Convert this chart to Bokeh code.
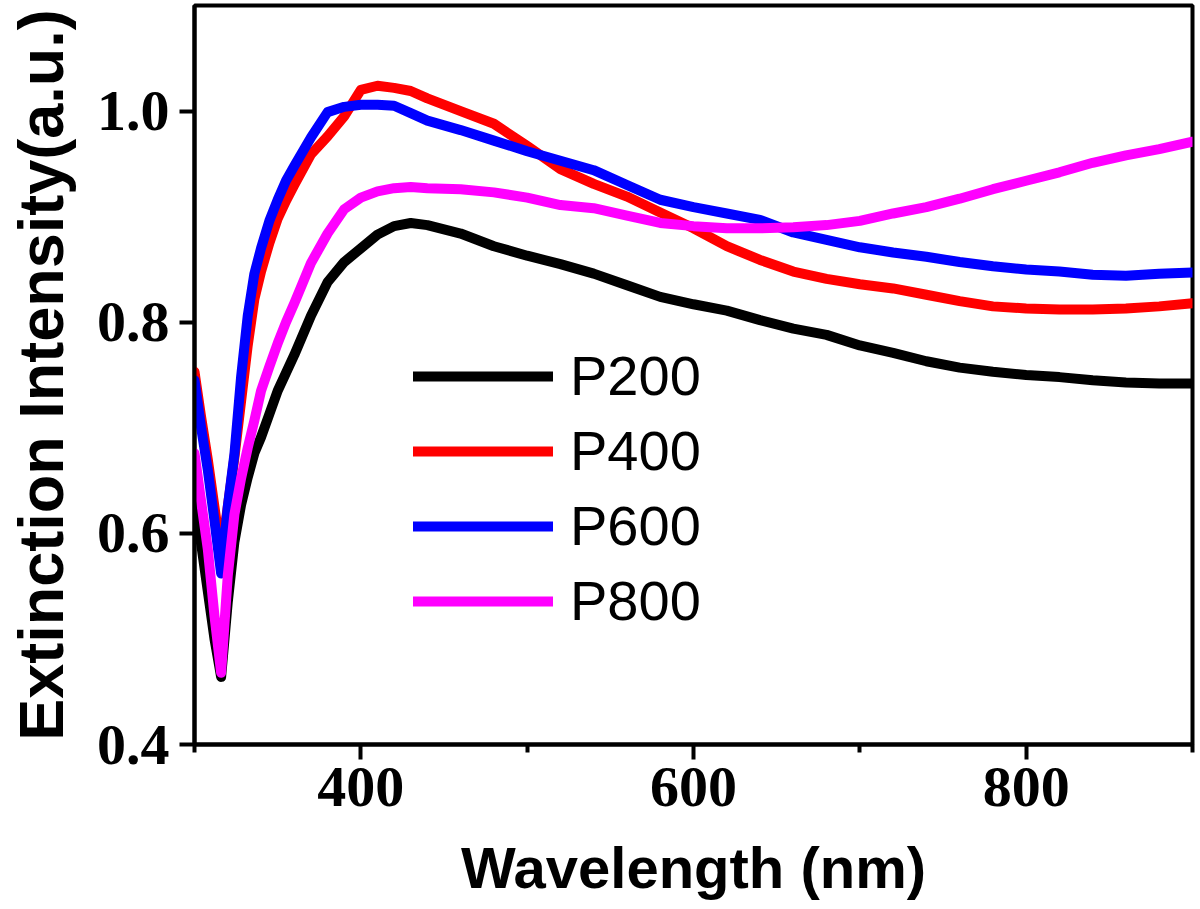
from bokeh.plotting import figure
from bokeh.models import FixedTicker, PrintfTickFormatter, Legend, LegendItem, Range1d
from bokeh.embed import file_html
from bokeh.resources import INLINE

# ---- data ----
wavelength = [300, 304, 308, 312, 316, 320, 324, 328, 332, 336, 340, 345, 350, 355, 360,
              370, 380, 390, 400, 410, 420, 430, 440, 460, 480, 500, 520, 540, 560, 580,
              600, 620, 640, 660, 680, 700, 720, 740, 760, 780, 800, 820, 840, 860, 880, 900]

p200 = [0.630, 0.590, 0.545, 0.500, 0.464, 0.535, 0.592, 0.627, 0.653, 0.676, 0.691, 0.713,
        0.735, 0.752, 0.769, 0.806, 0.838, 0.857, 0.870, 0.883, 0.891, 0.894, 0.892, 0.884,
        0.872, 0.863, 0.855, 0.846, 0.835, 0.824, 0.817, 0.811, 0.802, 0.794, 0.788, 0.778,
        0.771, 0.763, 0.757, 0.753, 0.750, 0.748, 0.745, 0.743, 0.742, 0.742]

p400 = [0.753, 0.710, 0.670, 0.625, 0.580, 0.625, 0.672, 0.725, 0.778, 0.822, 0.848, 0.875,
        0.898, 0.915, 0.930, 0.959, 0.976, 0.995, 1.020, 1.024, 1.022, 1.019, 1.012, 1.000,
        0.988, 0.967, 0.945, 0.931, 0.919, 0.904, 0.889, 0.872, 0.859, 0.848, 0.841, 0.836,
        0.832, 0.826, 0.820, 0.815, 0.813, 0.812, 0.812, 0.813, 0.815, 0.818]

p600 = [0.745, 0.700, 0.660, 0.612, 0.562, 0.625, 0.675, 0.748, 0.806, 0.846, 0.870, 0.896,
        0.916, 0.934, 0.948, 0.975, 0.999, 1.004, 1.006, 1.006, 1.005, 0.998, 0.991, 0.982,
        0.972, 0.962, 0.953, 0.944, 0.930, 0.916, 0.909, 0.903, 0.897, 0.885, 0.878, 0.871,
        0.866, 0.862, 0.857, 0.853, 0.850, 0.848, 0.845, 0.844, 0.846, 0.847]

p800 = [0.676, 0.630, 0.585, 0.522, 0.468, 0.560, 0.618, 0.652, 0.681, 0.707, 0.735, 0.758,
        0.780, 0.800, 0.818, 0.856, 0.884, 0.907, 0.918, 0.924, 0.927, 0.928, 0.927, 0.926,
        0.923, 0.918, 0.911, 0.908, 0.901, 0.894, 0.891, 0.889, 0.889, 0.890, 0.892, 0.896,
        0.903, 0.909, 0.917, 0.926, 0.934, 0.942, 0.951, 0.958, 0.964, 0.971]

series_names = ["P200", "P400", "P600", "P800"]
series_colors = ["#000000", "#ff0000", "#0000ff", "#ff00ff"]
x_ticks = [400, 600, 800]
x_minor = [300, 500, 700, 900]
y_ticks = [0.4, 0.6, 0.8, 1.0]

p = figure(width=1200, height=909, output_backend="svg", toolbar_location=None,
           x_range=Range1d(300, 900), y_range=Range1d(0.4, 1.1),
           min_border_left=194, min_border_right=8, min_border_top=5, min_border_bottom=165)

p.background_fill_color = "white"
p.border_fill_color = "white"
p.outline_line_color = "black"
p.outline_line_width = 4
p.grid.visible = False

renderers = []
for ys, c in zip([p200, p400, p600, p800], series_colors):
    r = p.line(wavelength, ys, line_color=c, line_width=10, line_join="round", line_cap="round")
    renderers.append(r)

# axes
p.xaxis.ticker = FixedTicker(ticks=x_ticks, minor_ticks=x_minor)
p.yaxis.ticker = FixedTicker(ticks=y_ticks, minor_ticks=[])
p.xaxis.formatter = PrintfTickFormatter(format="%d")
p.yaxis.formatter = PrintfTickFormatter(format="%.1f")

for ax in (p.xaxis[0], p.yaxis[0]):
    ax.axis_line_width = 4
    ax.axis_line_color = "black"
    ax.major_tick_line_width = 4
    ax.minor_tick_line_width = 4
    ax.major_tick_out = 15
    ax.major_tick_in = 0
    ax.minor_tick_out = 8
    ax.minor_tick_in = 0
    ax.major_label_text_font = "Liberation Serif"
    ax.major_label_text_font_style = "bold"
    ax.major_label_text_font_size = "58px"
    ax.major_label_text_color = "black"
    ax.axis_label_text_font = "Liberation Sans"
    ax.axis_label_text_font_style = "bold"
    ax.axis_label_text_color = "black"

p.xaxis.axis_label = "Wavelength (nm)"
p.xaxis.axis_label_text_font_size = "58px"
p.xaxis.major_label_standoff = 8
p.xaxis.axis_label_standoff = 26

p.yaxis.axis_label = "Extinction Intensity(a.u.)"
p.yaxis.axis_label_text_font_size = "63px"
p.yaxis.major_label_standoff = 10
p.yaxis.axis_label_standoff = 18

legend = Legend(items=[LegendItem(label=n, renderers=[r]) for n, r in zip(series_names, renderers)],
                location=(219, 111), padding=0, margin=0, spacing=10,
                glyph_width=140, glyph_height=64, label_height=64, label_standoff=17,
                label_text_font="Liberation Sans", label_text_font_size="56px",
                label_text_color="black", border_line_color=None,
                background_fill_alpha=0)
p.add_layout(legend, "center")

open("out.html", "w").write(file_html(p, INLINE))
